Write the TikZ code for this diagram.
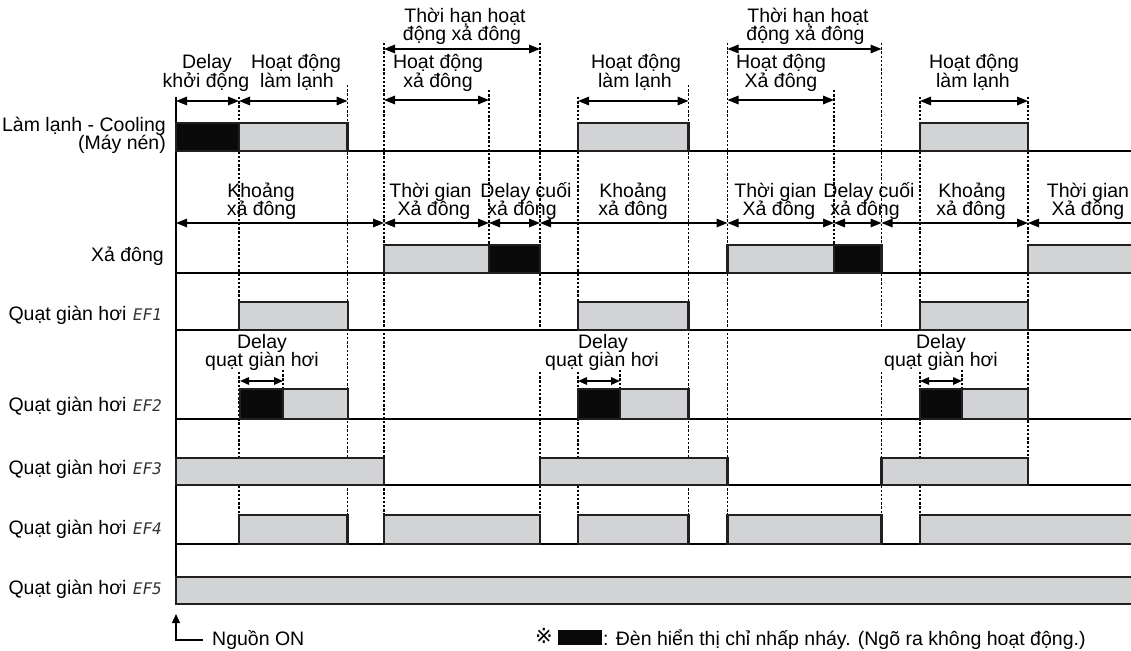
\documentclass[tikz,border=0pt]{standalone}
\usepackage{fontspec}
\setmainfont{Liberation Sans}
\newfontfamily\segfont[FakeSlant=0.18]{DejaVu Sans Mono}
\newfontfamily\symfont{DejaVu Sans}
\usetikzlibrary{arrows.meta}
\definecolor{boxgrey}{HTML}{D1D3D4}
\definecolor{boxblack}{HTML}{0A0A0A}
\definecolor{edgec}{HTML}{231F20}
\tikzset{
  rowline/.style={draw=black, line width=1.2pt},
  onbox/.style={draw=edgec, line width=2.4pt, fill=boxgrey},
  blinkbox/.style={draw=edgec, line width=2.4pt, fill=boxblack},
  guide/.style={draw=black, line width=1.2pt, dash pattern=on 2.4pt off 1.8pt},
  dim/.style={draw=black, line width=1.5pt, {Triangle[length=11pt,width=8.5pt]}-{Triangle[length=11pt,width=8.5pt]}},
  dimL/.style={draw=black, line width=1.5pt, {Triangle[length=11pt,width=8.5pt]}-},
  sdim/.style={draw=black, line width=1.5pt, {Triangle[length=9pt,width=7.5pt]}-{Triangle[length=9pt,width=7.5pt]}},
  lbl/.style={inner sep=0pt, anchor=base, font=\fontsize{19.5}{19.5}\selectfont},
  rowlbl/.style={inner sep=0pt, anchor=base east, font=\fontsize{19.5}{19.5}\selectfont},
}
\newcommand{\ef}[1]{{\segfont\fontsize{16}{16}\selectfont\color{black!80}EF#1}}
\begin{document}
\begin{tikzpicture}[x=1pt,y=-1pt]
\useasboundingbox (0,0) rectangle (1131,650);
\fill[white] (0,0) rectangle (1131,650);

% ---------- dotted guide lines (behind) ----------
\foreach \x/\a/\b in {239/97/330, 239/372/515, 347.5/85/515, 384/43/515, 489/90/245,
  540/43/330, 540/372/515, 578/97/330, 578/372/515, 688.5/85/515, 727.5/43/515,
  834/90/245, 881.5/43/330, 881.5/372/515, 920/97/330, 920/372/515, 1028/97/458,
  283/370/389, 620/370/389, 962/370/389}
  \draw[guide] (\x,\a) -- (\x,\b);

% ---------- baselines and axis ----------
\foreach \y in {151,273,330,419,485,544}
  \draw[rowline] (176,\y) -- (1131,\y);
\draw[rowline] (176,97) -- (176,604);

% ---------- row 1: compressor ----------
\draw[blinkbox] (176,122.7) rectangle (239,151);
\draw[onbox] (239,122.7) rectangle (347.5,151);
\draw[onbox] (578,122.7) rectangle (688.5,151);
\draw[onbox] (920,122.7) rectangle (1028,151);

% ---------- row 2: defrost ----------
\draw[onbox] (384,245) rectangle (489,273);
\draw[blinkbox] (489,245) rectangle (540,273);
\draw[onbox] (727.5,245) rectangle (834,273);
\draw[blinkbox] (834,245) rectangle (881.5,273);
\draw[onbox] (1028,245) rectangle (1145,273);

% ---------- row 3: EF1 ----------
\draw[onbox] (239,302) rectangle (348,330);
\draw[onbox] (578,302) rectangle (688.5,330);
\draw[onbox] (920,302) rectangle (1028,330);

% ---------- row 4: EF2 ----------
\draw[blinkbox] (240,389) rectangle (283,419);
\draw[onbox] (283,389) rectangle (348,419);
\draw[blinkbox] (578,389) rectangle (620,419);
\draw[onbox] (620,389) rectangle (688.5,419);
\draw[blinkbox] (920,389) rectangle (962,419);
\draw[onbox] (962,389) rectangle (1028,419);

% ---------- row 5: EF3 ----------
\draw[onbox] (176,458) rectangle (384,485);
\draw[onbox] (540,458) rectangle (727.5,485);
\draw[onbox] (881.5,458) rectangle (1028,485);

% ---------- row 6: EF4 ----------
\draw[onbox] (239,515) rectangle (347.5,544);
\draw[onbox] (384,515) rectangle (540,544);
\draw[onbox] (578,515) rectangle (688.5,544);
\draw[onbox] (727.5,515) rectangle (881.5,544);
\draw[onbox] (920,515) rectangle (1145,544);

% ---------- row 7: EF5 ----------
\draw[onbox] (176,576.7) rectangle (1145,604);

% ---------- dimension arrows ----------
\draw[dim] (384,49) -- (540,49);
\draw[dim] (727.5,49) -- (881.5,49);
\draw[dim] (176,101) -- (239,101);
\draw[dim] (239,101) -- (347.5,101);
\draw[dim] (384,100) -- (489,100);
\draw[dim] (578,101) -- (688.5,101);
\draw[dim] (727.5,100) -- (834,100);
\draw[dim] (920,101) -- (1028,101);
\draw[dim] (176,223) -- (384,223);
\draw[dim] (384,223) -- (489,223);
\draw[dim] (489,223) -- (540,223);
\draw[dim] (540,223) -- (727.5,223);
\draw[dim] (727.5,223) -- (834,223);
\draw[dim] (834,223) -- (881.5,223);
\draw[dim] (881.5,223) -- (1028,223);
\draw[dimL] (1028,223) -- (1131,223);
\draw[sdim] (240,381) -- (283,381);
\draw[sdim] (578,381) -- (620,381);
\draw[sdim] (920,381) -- (962,381);

% ---------- power on arrow ----------
\coordinate (pwA) at (203,640);
\coordinate (pwB) at (176,640);
\coordinate (pwC) at (176,614);
\draw[rowline, -{Triangle[length=9pt,width=8pt]}] (pwA) -- (pwB) -- (pwC);

% ---------- top labels ----------
\node (t1a) [lbl] at (465,22.5) {Thời hạn hoạt};
\node (t1b) [lbl] at (462,41) {động xả đông};
\node (t2a) [lbl] at (808,22.5) {Thời hạn hoạt};
\node (t2b) [lbl] at (805.5,41) {động xả đông};

\node (d1a) [lbl] at (207,69) {Delay};
\node (d1b) [lbl] at (206,87.5) {khởi động};
\node (c1a) [lbl] at (296,69) {Hoạt động};
\node (c1b) [lbl] at (297,87.5) {làm lạnh};
\node (x1a) [lbl] at (438,69) {Hoạt động};
\node (x1b) [lbl] at (438,87.5) {xả đông};
\node (c2a) [lbl] at (636,69) {Hoạt động};
\node (c2b) [lbl] at (635,87.5) {làm lạnh};
\node (x2a) [lbl] at (781,69) {Hoạt động};
\node (x2b) [lbl] at (781,87.5) {Xả đông};
\node (c3a) [lbl] at (974,69) {Hoạt động};
\node (c3b) [lbl] at (973,87.5) {làm lạnh};

% ---------- defrost row labels ----------
\node (k1a) [lbl] at (261,197.5) {Khoảng};
\node (k1b) [lbl] at (261.5,215.5) {xả đông};
\node (g1a) [lbl] at (430.5,197.5) {Thời gian};
\node (g1b) [lbl] at (434,215.5) {Xả đông};
\node (e1a) [lbl] at (526,197.5) {Delay cuối};
\node (e1b) [lbl] at (522,215.5) {xả đông};
\node (k2a) [lbl] at (633,197.5) {Khoảng};
\node (k2b) [lbl] at (633,215.5) {xả đông};
\node (g2a) [lbl] at (775.5,197.5) {Thời gian};
\node (g2b) [lbl] at (779,215.5) {Xả đông};
\node (e2a) [lbl] at (869,197.5) {Delay cuối};
\node (e2b) [lbl] at (865,215.5) {xả đông};
\node (k3a) [lbl] at (972,197.5) {Khoảng};
\node (k3b) [lbl] at (971,215.5) {xả đông};
\node (g3a) [lbl] at (1088,197.5) {Thời gian};
\node (g3b) [lbl] at (1088,215.5) {Xả đông};

% ---------- fan delay labels ----------
\node (f1a) [lbl] at (262,348.5) {Delay};
\node (f1b) [lbl] at (262,366.5) {quạt giàn hơi};
\node (f2a) [lbl] at (603,348.5) {Delay};
\node (f2b) [lbl] at (602,366.5) {quạt giàn hơi};
\node (f3a) [lbl] at (941,348.5) {Delay};
\node (f3b) [lbl] at (941,366.5) {quạt giàn hơi};

% ---------- row labels ----------
\node (r1a) [rowlbl] at (166,131.5) {Làm lạnh - Cooling};
\node (r1b) [rowlbl] at (166,149.5) {(Máy nén)};
\node (r2) [rowlbl] at (164,261.5) {Xả đông};
\node (r3) [rowlbl] at (161,320) {Quạt giàn hơi \ef{1}};
\node (r4) [rowlbl] at (161,411.5) {Quạt giàn hơi \ef{2}};
\node (r5) [rowlbl] at (161,474.5) {Quạt giàn hơi \ef{3}};
\node (r6) [rowlbl] at (161,534.5) {Quạt giàn hơi \ef{4}};
\node (r7) [rowlbl] at (161,594.5) {Quạt giàn hơi \ef{5}};

% ---------- bottom ----------
\node (pw) [lbl, anchor=base west] at (212,645) {Nguồn ON};
\node (refm) [lbl, anchor=base west, font=\symfont\fontsize{21}{21}\selectfont] at (535,643.5) {※};
\fill[boxblack] (558,630) rectangle (602,645);
\node (note) [lbl, anchor=base west] at (603,645) {: Đèn hiển thị chỉ nhấp nháy. (Ngõ ra không hoạt động.)};
\end{tikzpicture}
\end{document}
